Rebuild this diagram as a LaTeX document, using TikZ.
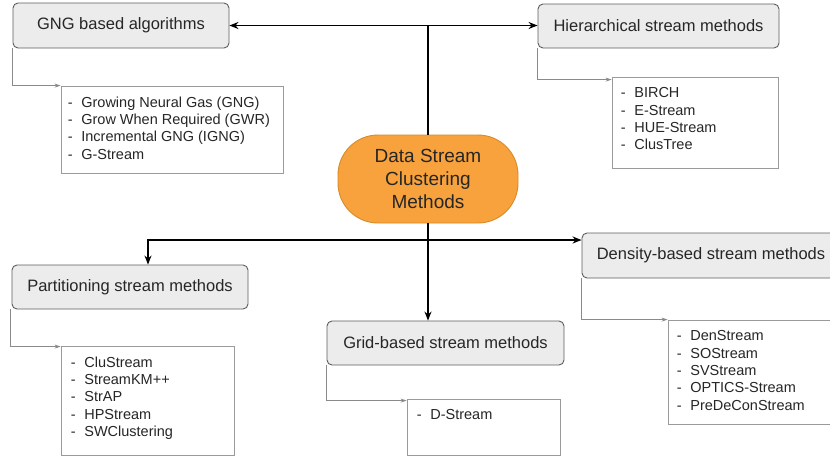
\documentclass[tikz,border=0pt]{standalone}
\usepackage{fontspec}
\setmainfont{Liberation Sans}
\usetikzlibrary{arrows.meta}
\definecolor{boxfill}{HTML}{ECECEC}
\definecolor{boxdraw}{HTML}{5E5E5E}
\definecolor{listdraw}{HTML}{9A9A9A}
\definecolor{subline}{HTML}{8A8A8A}
\definecolor{orfill}{HTML}{F7A23C}
\definecolor{ordraw}{HTML}{D98A2A}
\definecolor{txt}{HTML}{262626}
\tikzset{
  titlebox/.style={draw=boxdraw, fill=boxfill, rounded corners=5pt, line width=0.9pt,
    text=txt, font=\fontsize{16.5}{20}\selectfont, inner sep=0pt},
  listbox/.style={draw=listdraw, fill=white, line width=0.8pt, inner sep=0pt},
  listtext/.style={anchor=north west, align=left, text=txt, inner sep=0pt,
    font=\fontsize{14.5}{17.3}\selectfont},
  mainline/.style={draw=black, line width=1.3pt, -{Stealth[length=9pt,width=7pt]}},
  subarrow/.style={draw=subline, line width=0.8pt, -{Stealth[length=6pt,width=4pt]}},
}
\begin{document}
\begin{tikzpicture}[x=1pt,y=-1pt]
\useasboundingbox (0,0) rectangle (830,459);
\clip (0,0) rectangle (830,459);
\fill[white] (0,0) rectangle (830,459);

% center
\node (core) [draw=ordraw, fill=orfill, rounded corners=40pt, line width=0.9pt,
  minimum width=180pt, minimum height=88pt, align=center, text=txt, inner sep=0pt,
  font=\fontsize{19}{23}\selectfont] at (428,179) {Data Stream\\Clustering\\Methods};

% title boxes
\node (gng) [titlebox, minimum width=216pt, minimum height=45pt] at (121,25.5) {GNG based algorithms};
\node (hier) [titlebox, minimum width=241pt, minimum height=44pt] at (658.5,26) {Hierarchical stream methods};
\node (part) [titlebox, minimum width=236pt, minimum height=44pt] at (130,287) {Partitioning stream methods};
\node (grid) [titlebox, minimum width=237pt, minimum height=44pt] at (445.5,343) {Grid-based stream methods};
\node (dens) [titlebox, minimum width=258pt, minimum height=45pt] at (711,255.5) {Density-based stream methods};

% list boxes
\node (gnglist) [listbox, minimum width=222pt, minimum height=87pt] at (172,129.5) {};
\node (hierlist) [listbox, minimum width=166pt, minimum height=91pt] at (695,122.5) {};
\node (partlist) [listbox, minimum width=173pt, minimum height=109pt] at (147.5,400.5) {};
\node (gridlist) [listbox, minimum width=153pt, minimum height=56pt] at (483.5,427) {};
\node (denslist) [listbox, minimum width=172pt, minimum height=104pt] at (754,372) {};

% list texts
\node (gngtext) [listtext] at ([xshift=7pt,yshift=-11pt]gnglist.north west)
  {-\hspace{0.6em}Growing Neural Gas (GNG)\\-\hspace{0.6em}Grow When Required (GWR)\\-\hspace{0.6em}Incremental GNG (IGNG)\\-\hspace{0.6em}G-Stream};
\node (hiertext) [listtext] at ([xshift=9pt,yshift=-11pt]hierlist.north west)
  {-\hspace{0.6em}BIRCH\\-\hspace{0.6em}E-Stream\\-\hspace{0.6em}HUE-Stream\\-\hspace{0.6em}ClusTree};
\node (parttext) [listtext] at ([xshift=10pt,yshift=-11pt]partlist.north west)
  {-\hspace{0.6em}CluStream\\-\hspace{0.6em}StreamKM++\\-\hspace{0.6em}StrAP\\-\hspace{0.6em}HPStream\\-\hspace{0.6em}SWClustering};
\node (gridtext) [listtext] at ([xshift=10pt,yshift=-11pt]gridlist.north west)
  {-\hspace{0.6em}D-Stream};
\node (denstext) [listtext] at ([xshift=9pt,yshift=-11pt]denslist.north west)
  {-\hspace{0.6em}DenStream\\-\hspace{0.6em}SOStream\\-\hspace{0.6em}SVStream\\-\hspace{0.6em}OPTICS-Stream\\-\hspace{0.6em}PreDeConStream};

% sub connectors
\draw[subarrow] (gng.south west) |- (gnglist.north west);
\draw[subarrow] (hier.south west) |- ([yshift=-3pt]hierlist.north west);
\draw[subarrow] ([xshift=-1pt]part.south west) |- ([yshift=-1pt]partlist.north west);
\draw[subarrow] (grid.south west) |- ([yshift=-2pt]gridlist.north west);
\draw[subarrow] (dens.south west) |- (denslist.north west);

% main connectors
\coordinate (top) at (core.north |- gng.east);
\coordinate (j) at (428,240);
\coordinate (pin) at ([xshift=18pt]part.north);
\draw[mainline] (top) -- (gng.east);
\draw[mainline] (top) -- (hier.west |- top);
\draw[line width=1.3pt] (core.north) -- (top);
\draw[mainline] (j) -| (pin);
\draw[mainline] (j) -- (dens.west |- j);
\draw[mainline] (core.south) -- (core.south |- grid.north);
\end{tikzpicture}
\end{document}
